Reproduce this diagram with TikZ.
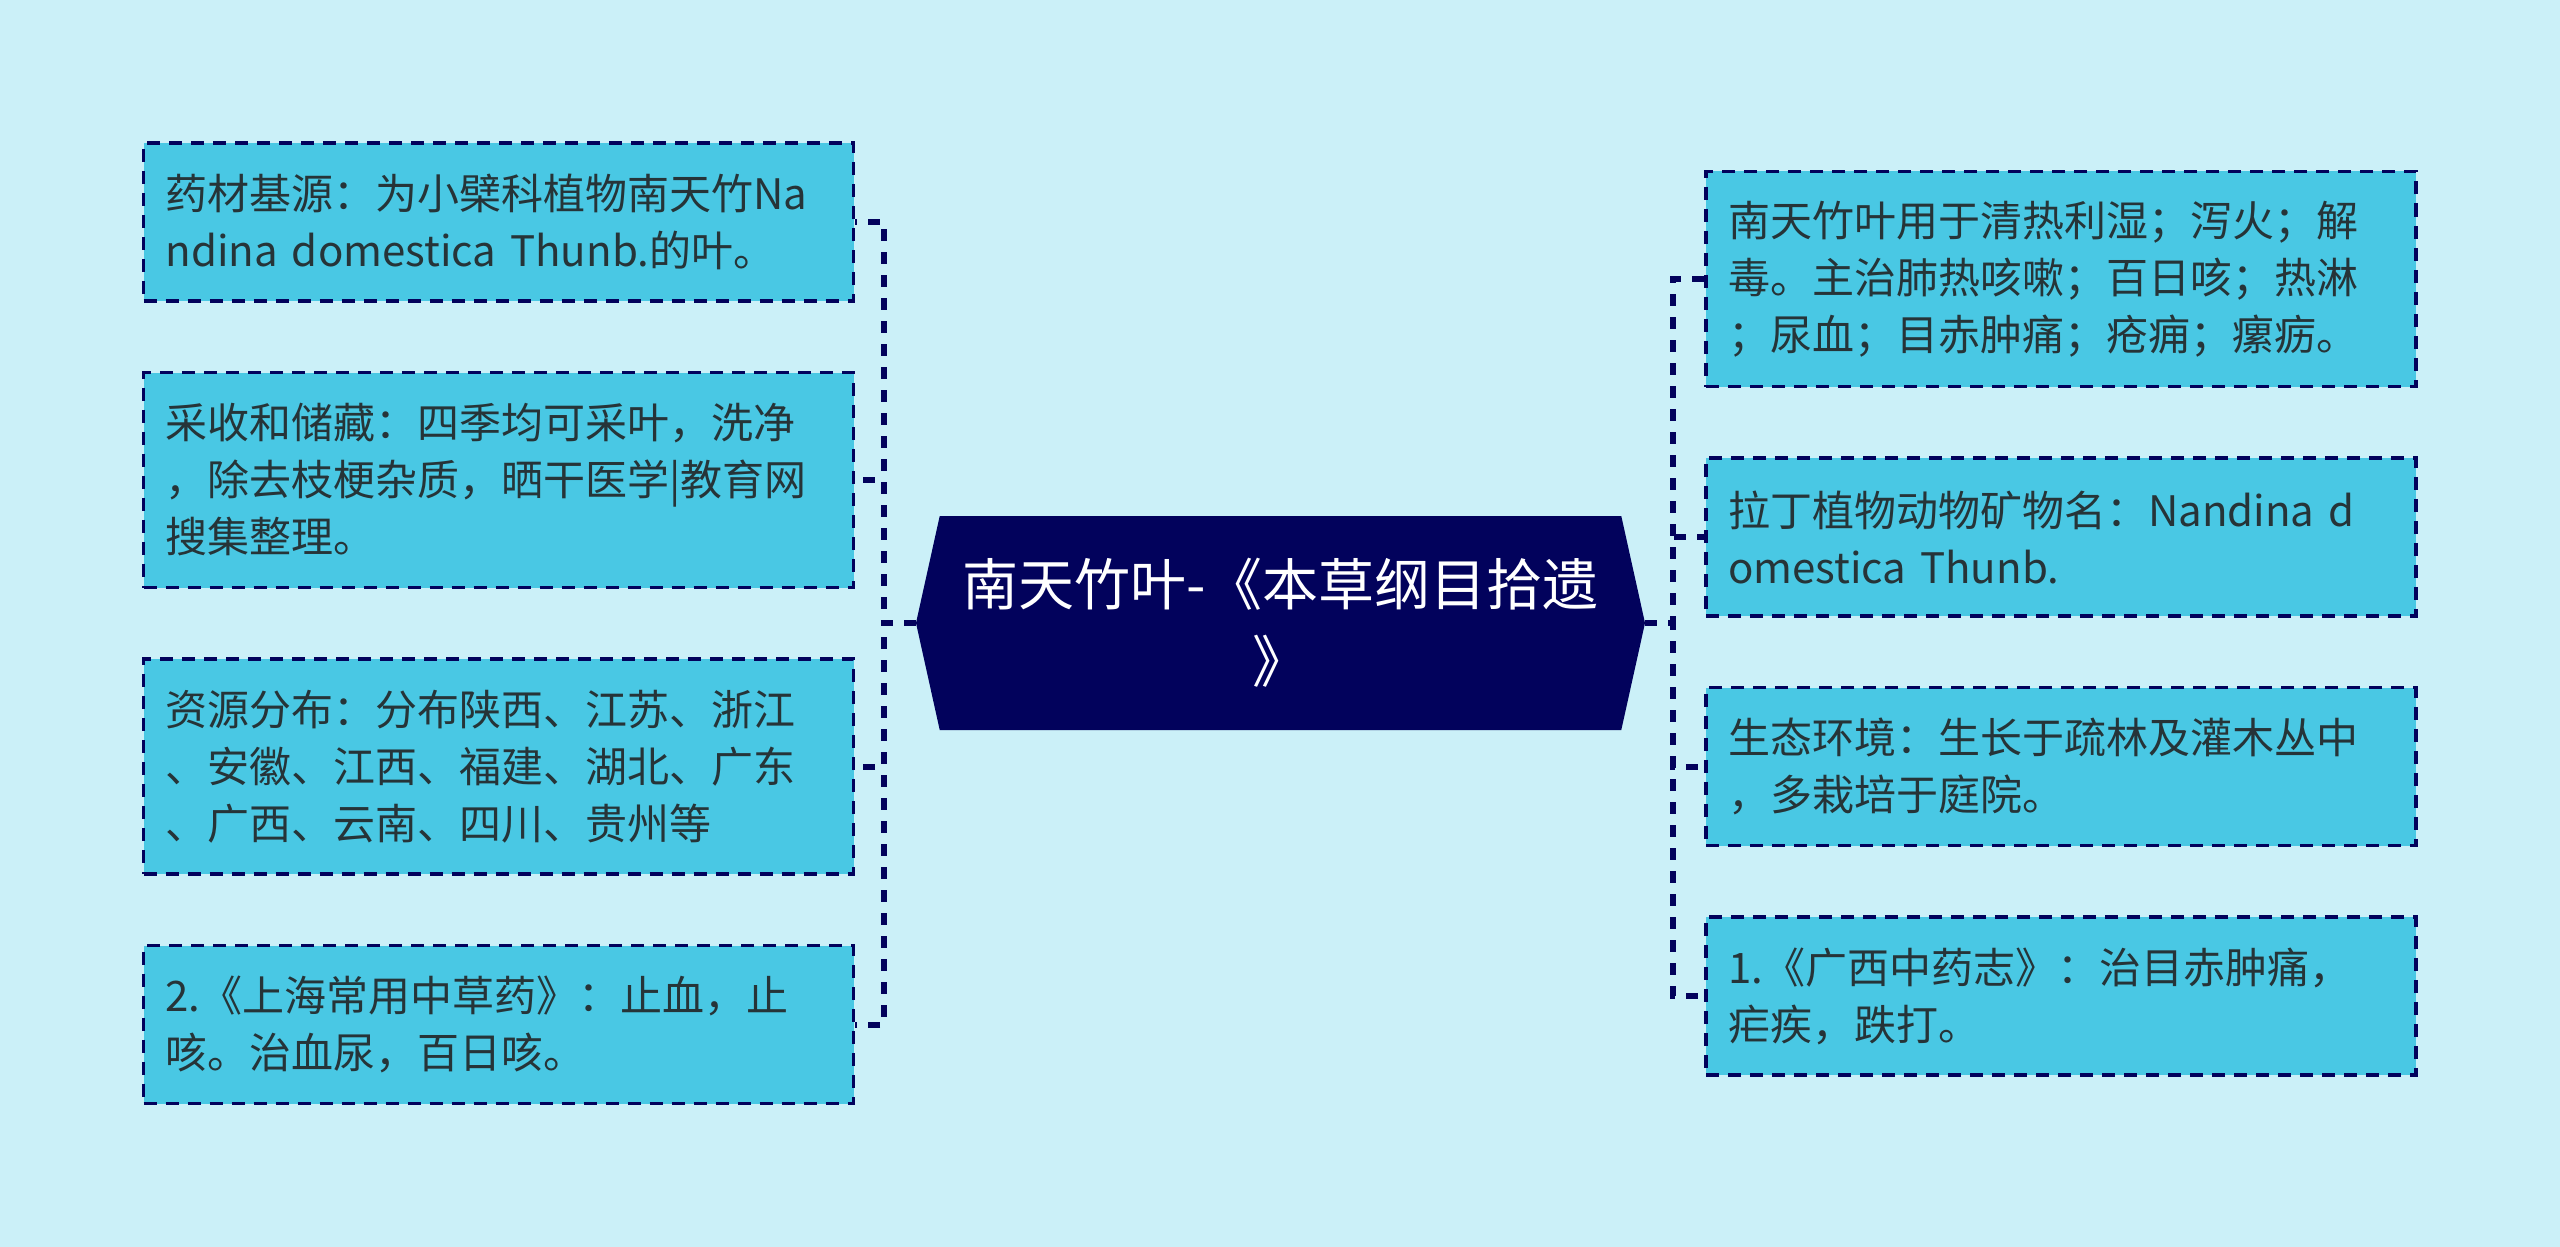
\documentclass[tikz,border=0pt]{standalone}
\usepackage{fontspec}
\setmainfont{Noto Sans CJK SC}
\usetikzlibrary{shapes.symbols}
\definecolor{bgcyan}{RGB}{203,240,248}
\definecolor{itemfill}{RGB}{73,200,228}
\definecolor{navy}{RGB}{2,2,92}
\definecolor{itemtext}{RGB}{38,52,56}
\tikzset{
  topic/.style={
    signal, signal to=west and east, signal pointer angle=155,
    fill=navy, text=white, align=center, inner sep=0pt,
    font=\fontsize{28}{38.5}\selectfont,
    minimum width=364.5pt, minimum height=107pt
  },
  item/.style={
    draw=navy, line width=1.7pt, dash pattern=on 6.5pt off 4.5pt,
    fill=itemfill, text=itemtext, align=left,
    font=\fontsize{21}{28.5}\selectfont,
    text width=333pt, inner xsep=11pt, inner ysep=0pt
  },
  twoline/.style={minimum height=79pt},
  threeline/.style={minimum height=107.5pt},
  branch/.style={draw=navy, line width=3pt, dash pattern=on 6pt off 5.5pt}
}
\begin{document}
\begin{tikzpicture}[x=0.5pt,y=-0.5pt]
\fill[bgcyan] (0,0) rectangle (2560,1247);
\useasboundingbox (0,0) rectangle (2560,1247);

\node[topic] (root) at (1280.5,623) {南天竹叶-《本草纲目拾遗\\》};

\node[item,twoline] (l1) at (498.5,222) {药材基源：为小檗科植物南天竹Na\\ndina domestica Thunb.的叶。};
\node[item,threeline] (l2) at (498.5,480) {采收和储藏：四季均可采叶，洗净\\，除去枝梗杂质，晒干医学|教育网\\搜集整理。};
\node[item,threeline] (l3) at (498.5,766.5) {资源分布：分布陕西、江苏、浙江\\、安徽、江西、福建、湖北、广东\\、广西、云南、四川、贵州等};
\node[item,twoline] (l4) at (498.5,1024.5) {2.《上海常用中草药》：止血，止\\咳。治血尿，百日咳。};

\node[item,threeline] (r1) at (2061,279) {南天竹叶用于清热利湿；泻火；解\\毒。主治肺热咳嗽；百日咳；热淋\\；尿血；目赤肿痛；疮痈；瘰疬。};
\node[item,twoline] (r2) at (2061,537) {拉丁植物动物矿物名：Nandina d\\omestica Thunb.};
\node[item,twoline] (r3) at (2061,766.5) {生态环境：生长于疏林及灌木丛中\\，多栽培于庭院。};
\node[item,twoline] (r4) at (2061,996) {1.《广西中药志》：治目赤肿痛，\\疟疾，跌打。};

\coordinate (lhub) at (884,623);
\coordinate (rhub) at (1673,623);
\foreach \n in {l1,l2,l3,l4}
  \draw[branch] (root.west) -- (lhub) |- (\n.east);
\foreach \n in {r1,r2,r3,r4}
  \draw[branch] (root.east) -- (rhub) |- (\n.west);
\end{tikzpicture}
\end{document}
